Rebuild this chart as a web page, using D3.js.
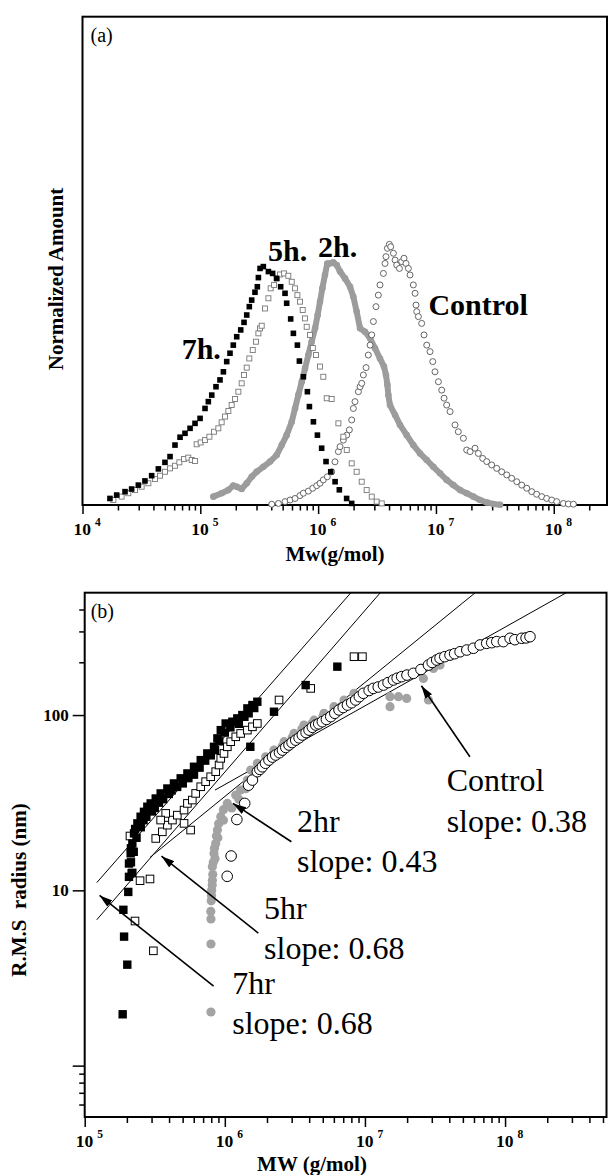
<!DOCTYPE html>
<html>
<head>
<meta charset="utf-8">
<script src="https://cdn.jsdelivr.net/npm/d3@7"></script>
<style>
body { margin: 0; background: #fff; }
svg { display: block; }
text { font-family: "Liberation Serif", "Times New Roman", serif; }
</style>
</head>
<body>
<div id="chart"></div>
<script>
// ---------- panel (a): size distributions, [log10 Mw, normalized amount]
var dist7h = [
    [4.233,0.025],[4.290,0.038],[4.361,0.051],[4.417,0.061],[4.474,0.076],[4.530,0.092],
    [4.587,0.112],[4.644,0.138],[4.700,0.163],[4.743,0.185],[4.785,0.229],[4.828,0.259],
    [4.870,0.274],[4.913,0.293],[4.955,0.312],[4.998,0.331],[5.040,0.369],[5.068,0.395],
    [5.097,0.420],[5.133,0.452],[5.167,0.478],[5.196,0.509],[5.224,0.548],[5.252,0.580],
    [5.280,0.611],[5.309,0.643],[5.343,0.669],[5.371,0.698],[5.394,0.726],[5.416,0.758],
    [5.436,0.783],[5.464,0.813],[5.484,0.834],[5.493,0.869],[5.507,0.904],[5.535,0.911],
    [5.578,0.892],[5.614,0.885],[5.648,0.866],[5.682,0.834],[5.719,0.809],[5.733,0.771],
    [5.767,0.711],[5.790,0.656],[5.824,0.611],[5.841,0.550],[5.875,0.490],[5.909,0.433],
    [5.926,0.376],[5.960,0.318],[5.994,0.267],[6.030,0.217],[6.067,0.166],[6.107,0.127],
    [6.144,0.089],[6.180,0.058],[6.242,0.025],[6.285,0.006]
];
var dist5h = [
    [4.262,0.019],[4.332,0.032],[4.389,0.045],[4.446,0.057],[4.502,0.070],[4.559,0.083],
    [4.615,0.099],[4.658,0.112],[4.700,0.127],[4.743,0.140],[4.785,0.150],[4.822,0.163],
    [4.862,0.176],[4.898,0.181],[4.927,0.172],[4.955,0.168],[4.969,0.232],[5.003,0.239],
    [5.040,0.248],[5.077,0.261],[5.116,0.280],[5.153,0.293],[5.181,0.316],[5.210,0.338],
    [5.238,0.359],[5.266,0.382],[5.295,0.405],[5.323,0.433],[5.351,0.465],[5.371,0.497],
    [5.394,0.525],[5.416,0.560],[5.445,0.592],[5.473,0.624],[5.493,0.656],[5.507,0.675],
    [5.521,0.685],[5.549,0.751],[5.578,0.790],[5.597,0.828],[5.626,0.841],[5.648,0.866],
    [5.677,0.881],[5.711,0.885],[5.747,0.876],[5.776,0.853],[5.804,0.828],[5.824,0.802],
    [5.846,0.777],[5.869,0.745],[5.889,0.713],[5.903,0.681],[5.931,0.650],[5.955,0.600],
    [5.982,0.573],[6.016,0.529],[6.044,0.490],[6.073,0.408],[6.115,0.405],[6.172,0.312],
    [6.214,0.261],[6.243,0.210],[6.285,0.159],[6.327,0.127],[6.370,0.089],[6.412,0.057],
    [6.455,0.032],[6.497,0.013],[6.540,0.006]
];
var dist2h = [
    [5.111,0.032],[5.181,0.045],[5.238,0.057],[5.280,0.074],[5.309,0.070],[5.351,0.061],
    [5.394,0.083],[5.436,0.108],[5.478,0.127],[5.535,0.146],[5.592,0.166],[5.648,0.191],
    [5.691,0.229],[5.733,0.267],[5.776,0.318],[5.804,0.369],[5.832,0.420],[5.861,0.471],
    [5.889,0.522],[5.917,0.573],[5.945,0.624],[5.974,0.675],[5.996,0.726],[6.016,0.777],
    [6.036,0.828],[6.058,0.879],[6.078,0.923],[6.101,0.923],[6.129,0.927],[6.158,0.917],
    [6.186,0.892],[6.228,0.866],[6.271,0.834],[6.299,0.796],[6.327,0.739],[6.356,0.675],
    [6.398,0.662],[6.441,0.637],[6.483,0.599],[6.525,0.560],[6.559,0.529],[6.576,0.497],
    [6.588,0.459],[6.596,0.420],[6.610,0.382],[6.653,0.344],[6.695,0.306],[6.752,0.267],
    [6.808,0.229],[6.865,0.197],[6.922,0.172],[6.978,0.146],[7.035,0.121],[7.091,0.096],
    [7.148,0.076],[7.205,0.057],[7.261,0.045],[7.318,0.032],[7.374,0.019],[7.431,0.010],
    [7.487,0.004],[7.544,0.001]
];
var distControl = [
    [5.606,0.003],[5.663,0.006],[5.719,0.013],[5.762,0.019],[5.804,0.025],[5.846,0.036],
    [5.875,0.045],[5.917,0.053],[5.954,0.064],[5.988,0.074],[6.016,0.083],[6.044,0.096],
    [6.078,0.108],[6.115,0.127],[6.143,0.165],[6.172,0.204],[6.186,0.223],[6.214,0.248],
    [6.243,0.267],[6.265,0.287],[6.285,0.325],[6.299,0.369],[6.313,0.395],[6.342,0.433],
    [6.356,0.452],[6.370,0.465],[6.384,0.497],[6.407,0.525],[6.426,0.573],[6.441,0.611],
    [6.455,0.650],[6.469,0.701],[6.491,0.758],[6.511,0.802],[6.525,0.841],[6.554,0.885],
    [6.568,0.923],[6.576,0.949],[6.588,0.981],[6.605,0.996],[6.616,0.987],[6.639,0.962],
    [6.653,0.936],[6.667,0.917],[6.690,0.904],[6.709,0.930],[6.729,0.943],[6.746,0.923],
    [6.766,0.904],[6.780,0.879],[6.808,0.841],[6.823,0.809],[6.831,0.764],[6.837,0.739],
    [6.851,0.720],[6.879,0.694],[6.899,0.650],[6.922,0.611],[6.950,0.586],[6.973,0.548],
    [6.992,0.509],[7.021,0.471],[7.049,0.439],[7.069,0.408],[7.091,0.382],[7.120,0.357],
    [7.162,0.306],[7.190,0.280],[7.233,0.255],[7.261,0.210],[7.290,0.204],[7.332,0.217],
    [7.360,0.197],[7.397,0.178],[7.431,0.166],[7.473,0.153],[7.516,0.140],[7.558,0.127],
    [7.601,0.115],[7.643,0.102],[7.686,0.089],[7.728,0.076],[7.771,0.064],[7.813,0.051],
    [7.855,0.041],[7.898,0.032],[7.940,0.025],[7.983,0.019],[8.025,0.013],[8.082,0.006],
    [8.124,0.004],[8.167,0.003]
];
var distLabels = [
    { text: "7h.", at: [4.842, 0.558] },
    { text: "5h.", at: [5.575, 0.932] },
    { text: "2h.", at: [5.999, 0.949] },
    { text: "Control", at: [6.936, 0.726] }
];
var decadesA = [4, 5, 6, 7, 8];

// ---------- panel (b): conformation plot, [log10 MW, log10 Rg]
var rms7hr = [
    [5.271,0.293],[5.304,0.576],[5.281,0.736],[5.276,0.889],[5.311,0.991],[5.335,1.098],
    [5.316,1.077],[5.316,1.153],[5.328,1.211],[5.340,1.267],[5.352,1.325],[5.376,1.382],
    [5.399,1.420],[5.423,1.448],[5.447,1.477],[5.471,1.496],[5.507,1.524],[5.542,1.553],
    [5.590,1.581],[5.637,1.610],[5.685,1.639],[5.733,1.667],[5.780,1.705],[5.828,1.743],
    [5.875,1.781],[5.923,1.819],[5.947,1.867],[5.971,1.914],[6.006,1.952],[6.054,1.962],
    [6.089,1.981],[6.125,2.000],[6.161,2.038],[6.197,2.057],[6.232,2.076],
    [5.340,1.100],[5.330,1.160],[5.350,1.220],[5.370,1.300],[5.400,1.360],[5.440,1.420],
    [5.500,1.470],[5.560,1.520],[5.620,1.570],[5.700,1.610],[5.780,1.660],[5.860,1.740],
    [5.930,1.800],[6.000,1.900],[6.100,1.950],[6.170,2.010],
    [5.330,1.240],[5.360,1.350],[5.420,1.400],[5.480,1.450],[5.530,1.500],[5.600,1.550],
    [5.660,1.590],[5.740,1.640],[5.820,1.700],[5.900,1.770],[5.960,1.850],[6.040,1.930],
    [6.140,1.990],[6.210,2.040],
    [6.182,1.819],[6.351,2.019],[6.577,2.171],[6.803,2.276]
];
var rms5hr = [
    [5.359,0.825],[5.490,0.655],[5.323,1.310],[5.395,1.055],[5.466,1.065],
    [5.507,1.296],[5.554,1.334],[5.590,1.372],[5.626,1.401],[5.661,1.429],[5.709,1.458],
    [5.733,1.496],[5.768,1.515],[5.792,1.553],[5.828,1.591],[5.863,1.620],[5.899,1.648],
    [5.935,1.677],[5.959,1.715],[5.971,1.753],[5.994,1.781],[6.018,1.819],[6.042,1.848],
    [6.078,1.876],[6.113,1.895],[6.161,1.914],[6.197,1.933],[6.232,1.952],
    [5.756,1.344],[5.578,1.439],[5.709,1.382],[5.542,1.401],
    [6.387,2.086],[6.613,2.152],[6.922,2.333],[6.982,2.333]
];
var rms2hr = [
    [5.901,0.306],[5.901,0.694],[5.901,0.837],[5.900,0.880],[5.903,0.940],[5.905,0.970],
    [5.906,1.000],[5.910,1.030],[5.911,1.058],[5.914,1.090],[5.911,1.134],[5.918,1.160],
    [5.923,1.210],[5.926,1.240],[5.935,1.267],[5.940,1.310],[5.947,1.344],[5.956,1.380],
    [5.971,1.420],[5.990,1.460],[6.018,1.496],[6.078,1.544],[6.113,1.572],[6.161,1.629],
    [6.185,1.686],[6.232,1.724],[6.292,1.762],[6.351,1.800],[6.423,1.848],[6.494,1.895],
    [6.565,1.943],[6.637,1.971],[6.708,2.010],[6.779,2.048],[6.851,2.086],[6.922,2.124],
    [5.930,1.180],[5.950,1.300],[5.990,1.400],[6.050,1.470],[6.100,1.520],[6.150,1.580],
    [6.200,1.640],[6.270,1.720],[6.340,1.770],[6.410,1.820],[6.480,1.870],[6.550,1.920],
    [6.620,1.950],[6.700,1.990],[6.780,2.030],
    [6.858,2.057],[7.179,2.105],[7.239,2.105],[7.298,2.095],[7.179,2.048],[7.453,2.086],
    [7.417,2.209],[7.489,2.266],[7.536,2.285]
];
var rmsControl = [
    [6.017,1.080],[6.045,1.196],[6.086,1.404],[6.142,1.496],[6.169,1.600],
    [6.197,1.629],[6.232,1.677],[6.250,1.690],[6.268,1.705],[6.290,1.725],[6.315,1.743],
    [6.340,1.760],[6.363,1.772],[6.390,1.785],[6.411,1.800],[6.435,1.815],[6.458,1.829],
    [6.480,1.843],[6.506,1.857],[6.530,1.870],[6.553,1.886],[6.580,1.900],[6.601,1.914],
    [6.625,1.930],[6.649,1.943],[6.670,1.950],[6.696,1.962],[6.725,1.975],[6.756,1.991],
    [6.785,2.010],[6.815,2.029],[6.845,2.043],[6.875,2.057],[6.905,2.070],[6.934,2.086],
    [6.960,2.105],[6.989,2.124],[7.030,2.140],[7.060,2.152],[7.095,2.160],[7.132,2.171],
    [7.165,2.185],[7.203,2.200],[7.230,2.210],[7.262,2.219],[7.300,2.228],[7.346,2.238],
    [7.400,2.260],[7.453,2.285],[7.480,2.300],[7.512,2.314],[7.536,2.324],[7.570,2.333],
    [7.607,2.342],[7.640,2.350],[7.679,2.361],[7.727,2.371],[7.774,2.381],[7.822,2.400],
    [7.869,2.409],[7.905,2.413],[7.941,2.419],[7.988,2.419],[8.036,2.438],[8.070,2.430],
    [8.119,2.438],[8.150,2.440],[8.178,2.447]
];
// fitted power-law lines, end points
var fitLines = [
    [[5.086,1.044],[6.901,2.699]],
    [[5.086,0.832],[7.111,2.699]],
    [[5.466,1.188],[7.789,2.699]],
    [[5.930,1.572],[8.440,2.699]]
];
var notes = [
    { lines: ["Control", "slope: 0.38"], at: [7.583, 1.564], tail: [7.749, 1.762], head: [7.403, 2.167] },
    { lines: ["2hr", "slope: 0.43"], at: [6.515, 1.333], tail: [6.475, 1.277], head: [6.059, 1.496] },
    { lines: ["5hr", "slope: 0.68"], at: [6.280, 0.837], tail: [6.239, 0.756], head: [5.548, 1.195] },
    { lines: ["7hr", "slope: 0.68"], at: [6.053, 0.410], tail: [5.920, 0.454], head: [5.106, 0.971] }
];
var decadesB = [5, 6, 7, 8];
var rmsTicks = [1, 10, 100];
var rmsTickLabels = ["", "10", "100"];
var rmsMinor = [0.6, 0.7, 0.8, 0.9, 200, 300, 400];

var p10 = function(v) { return Math.pow(10, v); };

var svg = d3.select('#chart')
    .append('svg')
    .attr('width', 609)
    .attr('height', 1175);

var defs = svg.append('defs');
defs.append('marker')
    .attr('id', 'arrow')
    .attr('viewBox', '0 0 13 8')
    .attr('refX', 13)
    .attr('refY', 4)
    .attr('markerWidth', 13)
    .attr('markerHeight', 8)
    .attr('markerUnits', 'userSpaceOnUse')
    .attr('orient', 'auto')
    .append('path')
    .attr('d', 'M0,0 L13,4 L0,8 Z')
    .attr('fill', '#000');

function minorValues(decades, max) {
    var out = [];
    decades.forEach(function(d) {
        for (var k = 2; k <= 9; k++) {
            if (k * p10(d) <= max) out.push(k * p10(d));
        }
    });
    return out;
}

function expLabels(g, scale, decades, y, size) {
    decades.forEach(function(d) {
        var t = g.append('text')
            .attr('x', scale(p10(d)) - 9)
            .attr('y', y)
            .attr('font-weight', 'bold')
            .attr('font-size', size);
        t.append('tspan').text('10');
        t.append('tspan')
            .attr('dx', 4)
            .attr('dy', -9.5)
            .attr('font-size', size * 0.66)
            .text(d);
    });
}

// ================= panel (a)
var xA = d3.scaleLog().domain([1e4, p10(8.452)]).range([82.5, 607]);
var yA = d3.scaleLinear().domain([0, 1.866]).range([505, 16.7]);

var panelA = svg.append('g').attr('id', 'panel_a');

panelA.append('rect')
    .attr('x', xA.range()[0])
    .attr('y', yA.range()[1])
    .attr('width', xA.range()[1] - xA.range()[0])
    .attr('height', yA.range()[0] - yA.range()[1])
    .attr('fill', 'none')
    .attr('stroke', '#000')
    .attr('stroke-width', 2);

var axA = panelA.append('g').attr('transform', 'translate(0,' + yA(0) + ')');
axA.call(d3.axisBottom(xA).tickValues(decadesA.map(p10)).tickSize(9).tickFormat(''));
axA.append('g').call(d3.axisBottom(xA).tickValues(minorValues(decadesA, xA.domain()[1])).tickSize(5.5).tickFormat(''));
axA.selectAll('.domain').remove();
axA.selectAll('line').attr('stroke-width', 1.5);
expLabels(panelA, xA, decadesA, 535, 17.5);

panelA.append('text')
    .attr('x', 335).attr('y', 561)
    .attr('text-anchor', 'middle')
    .attr('font-weight', 'bold')
    .attr('font-size', 21)
    .text('Mw(g/mol)');

panelA.append('text')
    .attr('transform', 'translate(63,279) rotate(-90)')
    .attr('text-anchor', 'middle')
    .attr('font-weight', 'bold')
    .attr('font-size', 21)
    .text('Normalized Amount');

panelA.append('text')
    .attr('x', xA.range()[0] + 8).attr('y', yA.range()[1] + 25)
    .attr('font-size', 20)
    .text('(a)');

var lineA = d3.line()
    .x(function(d) { return xA(p10(d[0])); })
    .y(function(d) { return yA(d[1]); });

panelA.append('path')
    .datum(dist2h)
    .attr('d', lineA)
    .attr('fill', 'none')
    .attr('stroke', '#9c9c9c')
    .attr('stroke-width', 6)
    .attr('stroke-linecap', 'round')
    .attr('stroke-linejoin', 'round');

panelA.selectAll('circle.c2h')
    .data(dist2h)
    .enter()
    .append('circle')
    .attr('class', 'c2h')
    .attr('cx', function(d) { return xA(p10(d[0])); })
    .attr('cy', function(d) { return yA(d[1]); })
    .attr('r', 3.3)
    .attr('fill', '#9c9c9c');

panelA.selectAll('circle.ctl')
    .data(distControl)
    .enter()
    .append('circle')
    .attr('class', 'ctl')
    .attr('cx', function(d) { return xA(p10(d[0])); })
    .attr('cy', function(d) { return yA(d[1]); })
    .attr('r', 3)
    .attr('fill', '#fff')
    .attr('stroke', '#555')
    .attr('stroke-width', 0.9);

panelA.selectAll('rect.s5h')
    .data(dist5h)
    .enter()
    .append('rect')
    .attr('class', 's5h')
    .attr('x', function(d) { return xA(p10(d[0])) - 2.5; })
    .attr('y', function(d) { return yA(d[1]) - 2.5; })
    .attr('width', 5)
    .attr('height', 5)
    .attr('fill', '#fff')
    .attr('stroke', '#777')
    .attr('stroke-width', 0.9);

panelA.selectAll('rect.s7h')
    .data(dist7h)
    .enter()
    .append('rect')
    .attr('class', 's7h')
    .attr('x', function(d) { return xA(p10(d[0])) - 2.8; })
    .attr('y', function(d) { return yA(d[1]) - 2.8; })
    .attr('width', 5.6)
    .attr('height', 5.6)
    .attr('fill', '#000');

panelA.selectAll('text.lab')
    .data(distLabels)
    .enter()
    .append('text')
    .attr('class', 'lab')
    .attr('x', function(d) { return xA(p10(d.at[0])); })
    .attr('y', function(d) { return yA(d.at[1]); })
    .attr('font-weight', 'bold')
    .attr('font-size', 30)
    .text(function(d) { return d.text; });

// ================= panel (b)
var xB = d3.scaleLog().domain([1e5, p10(8.724)]).range([84.7, 606.5]);
var yB = d3.scaleLog().domain([p10(-0.293), p10(2.698)]).range([1117, 592.7]);

var panelB = svg.append('g').attr('id', 'panel_b');

defs.append('clipPath')
    .attr('id', 'clipB')
    .append('rect')
    .attr('x', xB.range()[0])
    .attr('y', yB.range()[1])
    .attr('width', xB.range()[1] - xB.range()[0])
    .attr('height', yB.range()[0] - yB.range()[1]);

var axBx = panelB.append('g').attr('transform', 'translate(0,' + yB.range()[0] + ')');
axBx.call(d3.axisBottom(xB).tickValues(decadesB.map(p10)).tickSize(10).tickFormat(''));
axBx.append('g').call(d3.axisBottom(xB).tickValues(minorValues(decadesB, xB.domain()[1])).tickSize(6).tickFormat(''));
axBx.selectAll('.domain').remove();
axBx.selectAll('line').attr('stroke-width', 1.5);
expLabels(panelB, xB, decadesB, 1147, 17.5);

var axBy = panelB.append('g').attr('transform', 'translate(' + xB.range()[0] + ',0)');
axBy.call(d3.axisLeft(yB).tickValues(rmsTicks).tickSize(12).tickPadding(4)
    .tickFormat(function(d, i) { return rmsTickLabels[i]; }));
axBy.append('g').call(d3.axisLeft(yB).tickValues(rmsMinor).tickSize(5.5).tickFormat(''));
axBy.selectAll('.domain').remove();
axBy.selectAll('line').attr('stroke-width', 1.5);
axBy.selectAll('text')
    .attr('font-family', '"Liberation Serif", "Times New Roman", serif')
    .attr('font-weight', 'bold')
    .attr('font-size', 17)
    .attr('fill', '#000');

panelB.append('rect')
    .attr('x', xB.range()[0])
    .attr('y', yB.range()[1])
    .attr('width', xB.range()[1] - xB.range()[0])
    .attr('height', yB.range()[0] - yB.range()[1])
    .attr('fill', 'none')
    .attr('stroke', '#000')
    .attr('stroke-width', 2);

panelB.append('text')
    .attr('x', 312).attr('y', 1171)
    .attr('text-anchor', 'middle')
    .attr('font-weight', 'bold')
    .attr('font-size', 21)
    .text('MW (g/mol)');

panelB.append('text')
    .attr('transform', 'translate(26,890) rotate(-90)')
    .attr('text-anchor', 'middle')
    .attr('font-weight', 'bold')
    .attr('font-size', 21)
    .style('white-space', 'pre')
    .text('R.M.S  radius (nm)');

panelB.append('text')
    .attr('x', xB.range()[0] + 6).attr('y', yB.range()[1] + 25.5)
    .attr('font-size', 20)
    .text('(b)');

var plotB = panelB.append('g').attr('clip-path', 'url(#clipB)');

var lineB = d3.line()
    .x(function(d) { return xB(p10(d[0])); })
    .y(function(d) { return yB(p10(d[1])); });

plotB.selectAll('path.fit')
    .data(fitLines)
    .enter()
    .append('path')
    .attr('class', 'fit')
    .attr('d', lineB)
    .attr('fill', 'none')
    .attr('stroke', '#000')
    .attr('stroke-width', 1);

plotB.selectAll('circle.g2')
    .data(rms2hr)
    .enter()
    .append('circle')
    .attr('class', 'g2')
    .attr('cx', function(d) { return xB(p10(d[0])); })
    .attr('cy', function(d) { return yB(p10(d[1])); })
    .attr('r', 4.6)
    .attr('fill', '#a3a3a3');

plotB.selectAll('circle.gc')
    .data(rmsControl)
    .enter()
    .append('circle')
    .attr('class', 'gc')
    .attr('cx', function(d) { return xB(p10(d[0])); })
    .attr('cy', function(d) { return yB(p10(d[1])); })
    .attr('r', 5.3)
    .attr('fill', '#fff')
    .attr('stroke', '#000')
    .attr('stroke-width', 1);

plotB.selectAll('rect.q5')
    .data(rms5hr)
    .enter()
    .append('rect')
    .attr('class', 'q5')
    .attr('x', function(d) { return xB(p10(d[0])) - 3.8; })
    .attr('y', function(d) { return yB(p10(d[1])) - 3.8; })
    .attr('width', 7.6)
    .attr('height', 7.6)
    .attr('fill', '#fff')
    .attr('stroke', '#000')
    .attr('stroke-width', 1);

plotB.selectAll('rect.q7')
    .data(rms7hr)
    .enter()
    .append('rect')
    .attr('class', 'q7')
    .attr('x', function(d) { return xB(p10(d[0])) - 4.2; })
    .attr('y', function(d) { return yB(p10(d[1])) - 4.2; })
    .attr('width', 8.4)
    .attr('height', 8.4)
    .attr('fill', '#000');

// annotations with arrows
var noteG = panelB.selectAll('g.note')
    .data(notes)
    .enter()
    .append('g')
    .attr('class', 'note');

noteG.append('line')
    .attr('x1', function(d) { return xB(p10(d.tail[0])); })
    .attr('y1', function(d) { return yB(p10(d.tail[1])); })
    .attr('x2', function(d) { return xB(p10(d.head[0])); })
    .attr('y2', function(d) { return yB(p10(d.head[1])); })
    .attr('stroke', '#000')
    .attr('stroke-width', 1.6)
    .attr('marker-end', 'url(#arrow)');

noteG.each(function(d) {
    var g = d3.select(this);
    d.lines.forEach(function(s, i) {
        g.append('text')
            .attr('x', xB(p10(d.at[0])))
            .attr('y', yB(p10(d.at[1])) + i * 40.3)
            .attr('font-size', 32)
            .text(s);
    });
});
</script>
</body>
</html>
